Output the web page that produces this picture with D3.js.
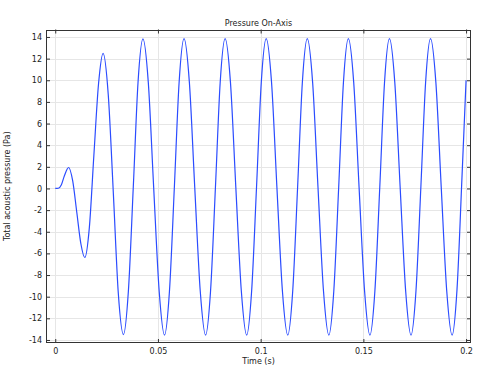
<!DOCTYPE html>
<html>
<head>
<meta charset="utf-8">
<script src="https://cdn.jsdelivr.net/npm/d3@7"></script>
<style>
  html, body { margin: 0; padding: 0; background: #fff; }
  svg { display: block; font-family: "DejaVu Sans", sans-serif; }
</style>
</head>
<body>
<svg id="chart" width="479" height="366"></svg>
<script>
// ---- data ----
const title = "Pressure On-Axis";
const xLabel = "Time (s)";
const yLabel = "Total acoustic pressure (Pa)";
const xTicks = [0, 0.05, 0.1, 0.15, 0.2];
const xTickLabels = ["0", "0.05", "0.1", "0.15", "0.2"];
const yTicks = [-14, -12, -10, -8, -6, -4, -2, 0, 2, 4, 6, 8, 10, 12, 14];
const yTickLabels = ["-14", "-12", "-10", "-8", "-6", "-4", "-2", "0", "2", "4", "6", "8", "10", "12", "14"];

const time = [
  0, 0.0015, 0.003, 0.0045, 0.0065, 0.0085, 0.0105, 0.0125, 0.0144,
  0.0166, 0.0188, 0.0211, 0.0233, 0.0258, 0.0283, 0.0307, 0.0332,
  0.0356, 0.0380, 0.0403, 0.0427, 0.0453, 0.0479, 0.0506, 0.0532,
  0.0556, 0.0580, 0.0603, 0.0627, 0.0653, 0.0679, 0.0706, 0.0732,
  0.0756, 0.0780, 0.0803, 0.0827, 0.0853, 0.0879, 0.0906, 0.0932,
  0.0956, 0.0980, 0.1003, 0.1027, 0.1053, 0.1079, 0.1106, 0.1132,
  0.1156, 0.1180, 0.1203, 0.1227, 0.1253, 0.1279, 0.1306, 0.1332,
  0.1356, 0.1380, 0.1403, 0.1427, 0.1453, 0.1479, 0.1506, 0.1532,
  0.1556, 0.1580, 0.1603, 0.1627, 0.1653, 0.1679, 0.1706, 0.1732,
  0.1756, 0.1780, 0.1803, 0.1827, 0.1853, 0.1879, 0.1906, 0.1932,
  0.1956, 0.1980, 0.2000
];
const pressure = [
  0, 0.02, 0.35, 1.2, 1.94, 0.7, -2.22, -5.13, -6.38,
  -3.62, 3.05, 9.72, 12.49, 8.69, -0.5, -9.69, -13.5,
  -9.5, 0.15, 9.8, 13.82, 9.8, 0.15, -9.5, -13.55,
  -9.5, 0.15, 9.8, 13.85, 9.8, 0.15, -9.5, -13.55,
  -9.5, 0.15, 9.8, 13.85, 9.8, 0.15, -9.5, -13.55,
  -9.5, 0.15, 9.8, 13.85, 9.8, 0.15, -9.5, -13.55,
  -9.5, 0.15, 9.8, 13.85, 9.8, 0.15, -9.5, -13.55,
  -9.5, 0.15, 9.8, 13.85, 9.8, 0.15, -9.5, -13.55,
  -9.5, 0.15, 9.8, 13.85, 9.8, 0.15, -9.5, -13.55,
  -9.5, 0.15, 9.8, 13.85, 9.8, 0.15, -9.5, -13.55,
  -9.3, 1.0, 10.0
];

// ---- layout ----
const L = 46, R = 471, T = 29.5, B = 343;
const svg = d3.select("#chart");

const x = d3.scaleLinear().domain([-0.0045, 0.2024]).range([L, R]);
const y = d3.scaleLinear().domain([-14.28, 14.69]).range([B, T]);

// grid
const grid = svg.append("g").attr("stroke", "#e6e6e6").attr("stroke-width", 1);
grid.selectAll(".gx").data(xTicks).join("line")
  .attr("x1", d => Math.round(x(d)) + 0.5).attr("x2", d => Math.round(x(d)) + 0.5)
  .attr("y1", T).attr("y2", B);
grid.selectAll(".gy").data(yTicks).join("line")
  .attr("y1", d => Math.round(y(d)) + 0.5).attr("y2", d => Math.round(y(d)) + 0.5)
  .attr("x1", L).attr("x2", R);

// curve
const pts = time.map((t, i) => [t, pressure[i]]);
svg.append("path")
  .datum(pts)
  .attr("fill", "none")
  .attr("stroke", "#2b4cff")
  .attr("stroke-width", 1.2)
  .attr("d", d3.line().x(d => x(d[0])).y(d => y(d[1])).curve(d3.curveMonotoneX));

// axes (ticks pointing inward)
const fmtX = d => xTickLabels[xTicks.indexOf(d)];
const fmtY = d => yTickLabels[yTicks.indexOf(d)];

const axB = svg.append("g").attr("transform", `translate(0,${B})`)
  .call(d3.axisBottom(x).tickValues(xTicks).tickFormat(fmtX).tickSizeInner(-4).tickSizeOuter(0).tickPadding(5));
const axT = svg.append("g").attr("transform", `translate(0,${T})`)
  .call(d3.axisTop(x).tickValues(xTicks).tickFormat("").tickSizeInner(-4).tickSizeOuter(0));
const axL = svg.append("g").attr("transform", `translate(${L},0)`)
  .call(d3.axisLeft(y).tickValues(yTicks).tickFormat(fmtY).tickSizeInner(-4).tickSizeOuter(0).tickPadding(4));
const axR = svg.append("g").attr("transform", `translate(${R},0)`)
  .call(d3.axisRight(y).tickValues(yTicks).tickFormat("").tickSizeInner(-4).tickSizeOuter(0));

[axB, axT, axL, axR].forEach(g => {
  g.select(".domain").remove();
  g.selectAll("line").attr("stroke", "#333");
  g.selectAll("text").attr("font-size", 8).attr("fill", "#222").attr("font-family", "DejaVu Sans, sans-serif");
});

// frame
svg.append("rect")
  .attr("x", L + 0.5).attr("y", Math.round(T) + 0.5)
  .attr("width", R - L - 1).attr("height", B - Math.round(T) - 1)
  .attr("fill", "none").attr("stroke", "#333").attr("stroke-width", 1);

// labels
svg.append("text").attr("x", (L + R) / 2).attr("y", 25.5)
  .attr("text-anchor", "middle").attr("font-size", 8).attr("fill", "#222").text(title);
svg.append("text").attr("x", (L + R) / 2).attr("y", 363.5)
  .attr("text-anchor", "middle").attr("font-size", 8).attr("fill", "#222").text(xLabel);
svg.append("text")
  .attr("transform", `translate(10,${(T + B) / 2}) rotate(-90)`)
  .attr("text-anchor", "middle").attr("font-size", 8).attr("fill", "#222").text(yLabel);
</script>
</body>
</html>
